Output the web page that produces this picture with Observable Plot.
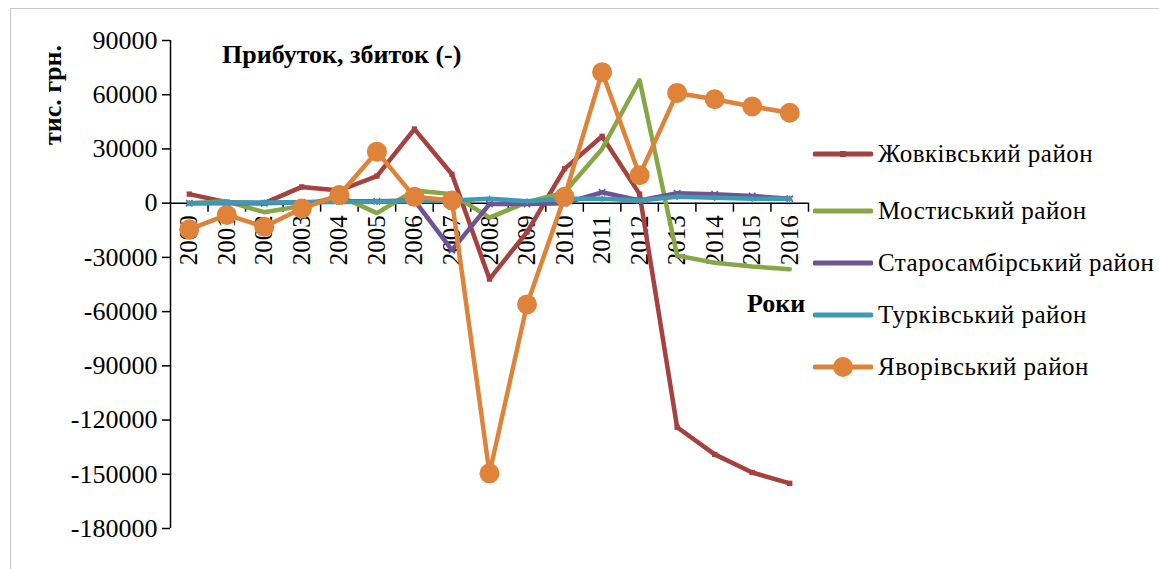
<!DOCTYPE html>
<html>
<head>
<meta charset="utf-8">
<script src="https://cdn.jsdelivr.net/npm/d3@7"></script>
<script src="https://cdn.jsdelivr.net/npm/@observablehq/plot@0.6"></script>
<style>
  html, body { margin: 0; padding: 0; background: #fff; overflow: hidden; }
  #wrap { position: relative; width: 1159px; height: 569px; overflow: hidden; font-family: "Liberation Serif", "Times New Roman", serif; }
  #border { position: absolute; left: 10px; top: 8px; width: 1170px; height: 580px; border: 1px solid #c8c8c8; box-sizing: border-box; }
  #chart { position: absolute; left: 0; top: 0; }
  .lbl { position: absolute; white-space: nowrap; color: #000; }
  .bold { font-weight: bold; }
  .leg { position: absolute; left: 813px; height: 30px; display: flex; align-items: center; white-space: nowrap; font-size: 25px; letter-spacing: 0.5px; }
  .leg svg { margin-right: 5px; }
</style>
</head>
<body>
<div id="wrap">
  <div id="border"></div>
  <div id="chart"></div>
  <div class="lbl bold" style="left:222px; top:40px; font-size:26px;">Прибуток, збиток (-)</div>
  <div class="lbl bold" style="left:747px; top:289px; font-size:26px;">Роки</div>
  <div class="lbl bold" style="left:53px; top:95px; font-size:26px; transform: translate(-50%,-50%) rotate(-90deg);">тис. грн.</div>
  <div id="legend"></div>
</div>
<script>
const years = [2000, 2001, 2002, 2003, 2004, 2005, 2006, 2007, 2008, 2009, 2010, 2011, 2012, 2013, 2014, 2015, 2016];
const seriesNames = ["Жовківський район", "Мостиський район", "Старосамбірський район", "Турківський район", "Яворівський район"];
const zhovkva     = [5000, 500, 0, 9000, 7000, 15000, 41000, 16000, -42000, -16000, 19000, 37000, 5000, -124000, -139000, -149000, -155000];
const mostyska    = [0, 1000, -5000, -1500, 4000, -5500, 7000, 5000, -8000, 500, 6000, 30000, 68000, -29000, -33000, -35000, -36500];
const starosambir = [0, 0, 0, 500, 1000, 1000, 1500, -26000, -500, -500, 0, 6000, 1500, 5500, 5000, 4000, 2500];
const turkiv      = [0, 300, 300, 500, 700, 800, 1000, 1500, 2500, 1000, 2500, 2500, 1500, 3500, 3000, 2500, 2500];
const yavoriv     = [-14500, -6500, -13000, -3000, 4500, 28500, 3500, 1500, -149500, -56000, 3500, 72500, 15500, 61000, 57500, 53500, 50000];
const yTicks = [90000, 60000, 30000, 0, -30000, -60000, -90000, -120000, -150000, -180000];
const colors = ["#A5413E", "#87A747", "#6E5494", "#3D9AB4", "#DF833A"];

const allValues = [zhovkva, mostyska, starosambir, turkiv, yavoriv];
const rows = (i) => years.map((yr, j) => ({year: yr, value: allValues[i][j], series: seriesNames[i]}));
const boundaries = years.map(y => y + 0.5);

const plot = Plot.plot({
  width: 1159,
  height: 569,
  marginLeft: 170,
  marginRight: 351,
  marginTop: 40,
  marginBottom: 41,
  x: {domain: [years[0] - 0.5, years[years.length - 1] + 0.5], axis: null},
  y: {domain: [yTicks[yTicks.length - 1], yTicks[0]], axis: null},
  style: {fontFamily: "Liberation Serif", background: "transparent", overflow: "visible"},
  marks: [
    Plot.ruleX([years[0] - 0.5], {y1: yTicks[yTicks.length - 1], y2: yTicks[0], stroke: "#000", strokeWidth: 1.5}),
    Plot.axisY({ticks: yTicks, label: null, tickSize: 8, tickPadding: 5, tickFormat: d => String(d), fontSize: 26, stroke: "#000", strokeWidth: 1.5, fill: "#000"}),
    Plot.ruleY([0], {stroke: "#000", strokeWidth: 1.5}),
    Plot.ruleX(boundaries, {y1: 0, y2: -5000, stroke: "#000", strokeWidth: 1.5}),
    Plot.text(years, {x: d => d, y: 0, text: d => String(d), rotate: -90, textAnchor: "end", dy: 12, fontSize: 25, fill: "#000"}),
    Plot.line(rows(0), {x: "year", y: "value", stroke: colors[0], strokeWidth: 4.5}),
    Plot.dot(rows(0), {x: "year", y: "value", symbol: "square", r: 3, fill: colors[0]}),
    Plot.line(rows(1), {x: "year", y: "value", stroke: colors[1], strokeWidth: 4.5}),
    Plot.line(rows(2), {x: "year", y: "value", stroke: colors[2], strokeWidth: 4.5}),
    Plot.dot(rows(2), {x: "year", y: "value", symbol: "times", r: 3, stroke: colors[2], strokeWidth: 1.5}),
    Plot.line(rows(3), {x: "year", y: "value", stroke: colors[3], strokeWidth: 4.5}),
    Plot.dot(rows(3), {x: "year", y: "value", symbol: "asterisk", r: 3, stroke: colors[3], strokeWidth: 1.5}),
    Plot.line(rows(4), {x: "year", y: "value", stroke: colors[4], strokeWidth: 4.5}),
    Plot.dot(rows(4), {x: "year", y: "value", r: 10, fill: colors[4]})
  ]
});
document.getElementById("chart").appendChild(plot);

// Legend
const legendY = [154, 211, 263, 315, 367];
const legend = document.getElementById("legend");
seriesNames.forEach((name, i) => {
  const div = document.createElement("div");
  div.className = "leg";
  div.style.top = (legendY[i] - 15) + "px";
  const marker = i === 4 ? `<circle cx="30" cy="15" r="10" fill="${colors[i]}"/>` :
                 i === 0 ? `<rect x="27" y="12" width="6" height="6" fill="${colors[i]}"/>` : "";
  div.innerHTML = `<svg width="60" height="30"><line x1="2" y1="15" x2="58" y2="15" stroke="${colors[i]}" stroke-width="5" stroke-linecap="round"/>${marker}</svg><span>${name}</span>`;
  legend.appendChild(div);
});
</script>
</body>
</html>
